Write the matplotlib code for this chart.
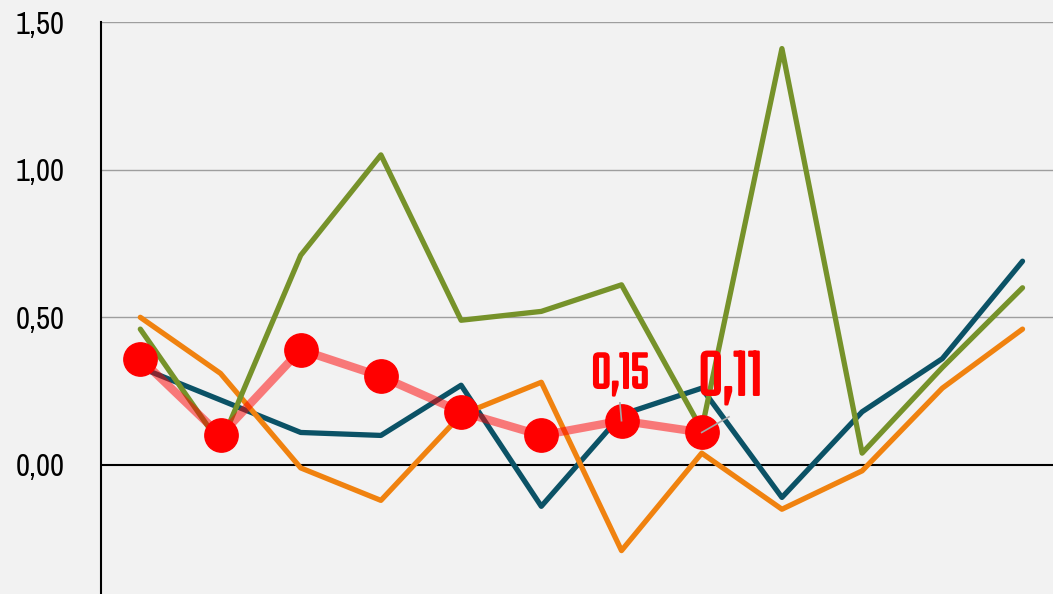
import matplotlib
matplotlib.use('Agg')
import matplotlib.pyplot as plt
import matplotlib.patheffects as pe
import numpy as np

# Values
categories = list(range(12))
teal_values = [0.33, 0.22, 0.11, 0.10, 0.27, -0.14, 0.17, 0.26, -0.11, 0.18, 0.36, 0.69]
orange_values = [0.50, 0.31, -0.01, -0.12, 0.17, 0.28, -0.29, 0.04, -0.15, -0.02, 0.26, 0.46]
green_values = [0.46, 0.07, 0.71, 1.05, 0.49, 0.52, 0.61, 0.12, 1.41, 0.04, 0.33, 0.60]
red_values = [0.36, 0.10, 0.39, 0.30, 0.18, 0.10, 0.15, 0.11]
y_ticks = [0.0, 0.5, 1.0, 1.5]
y_tick_labels = ['0,00', '0,50', '1,00', '1,50']
# labelled points: index, text, font size, text position, leader end
point_labels = [
    (6, '0,15', 40, (5.98, 0.31), (5.98, 0.21)),
    (7, '0,11', 50, (7.36, 0.30), (7.34, 0.163)),
]

bg = '#F2F2F2'
label_font = ['Teko', 'Antonio', 'DejaVu Sans']
tick_font = ['Archivo Narrow', 'Liberation Sans', 'DejaVu Sans']

fig = plt.figure(figsize=(10.53, 5.94), dpi=100, facecolor=bg)
ax = fig.add_axes([101 / 1053, 0, (1053 - 101) / 1053, (594 - 22) / 594])
ax.set_facecolor(bg)

x = np.array(categories)
ax.plot(x, teal_values, color='#0B5266', lw=3.8, solid_capstyle='round', zorder=3)
ax.plot(x, orange_values, color='#F0820F', lw=3.8, solid_capstyle='round', zorder=3)
ax.plot(x, green_values, color='#76922A', lw=3.8, solid_capstyle='round', zorder=3)
xr = np.arange(len(red_values))
ax.plot(xr, red_values, color='#FF0000', alpha=0.5, lw=6, zorder=4)
ax.plot(xr, red_values, 'o', color='#FF0000', ms=24, zorder=5)

# data labels with small grey leader lines
for i, txt, size, (tx, ty), (lx, ly) in point_labels:
    ax.plot([i, lx], [red_values[i], ly], color='#A6A6A6', lw=1.2, zorder=6)
    ax.text(tx, ty, txt, color='#FF0000', fontsize=size, fontweight='bold',
            family=label_font, ha='center', va='center', zorder=7,
            path_effects=[pe.withStroke(linewidth=1.6, foreground='#FF0000')])

ax.set_xlim(-0.49, 11.38)
ax.set_ylim(-0.437, 1.5)
ax.set_yticks(y_ticks)
ax.set_yticklabels(y_tick_labels, fontsize=22, family=tick_font)
ax.tick_params(axis='y', length=0, pad=26)
ax.set_xticks([])
for ytk in [0.5, 1.0, 1.5]:
    ax.axhline(ytk, color='#9E9E9E', lw=1, zorder=1)
ax.axhline(0, color='black', lw=1.5, zorder=2)
for s in ['top', 'right', 'bottom']:
    ax.spines[s].set_visible(False)
ax.spines['left'].set_color('black')
ax.spines['left'].set_linewidth(1.5)

fig.savefig('out.png', dpi=100, facecolor=bg)
